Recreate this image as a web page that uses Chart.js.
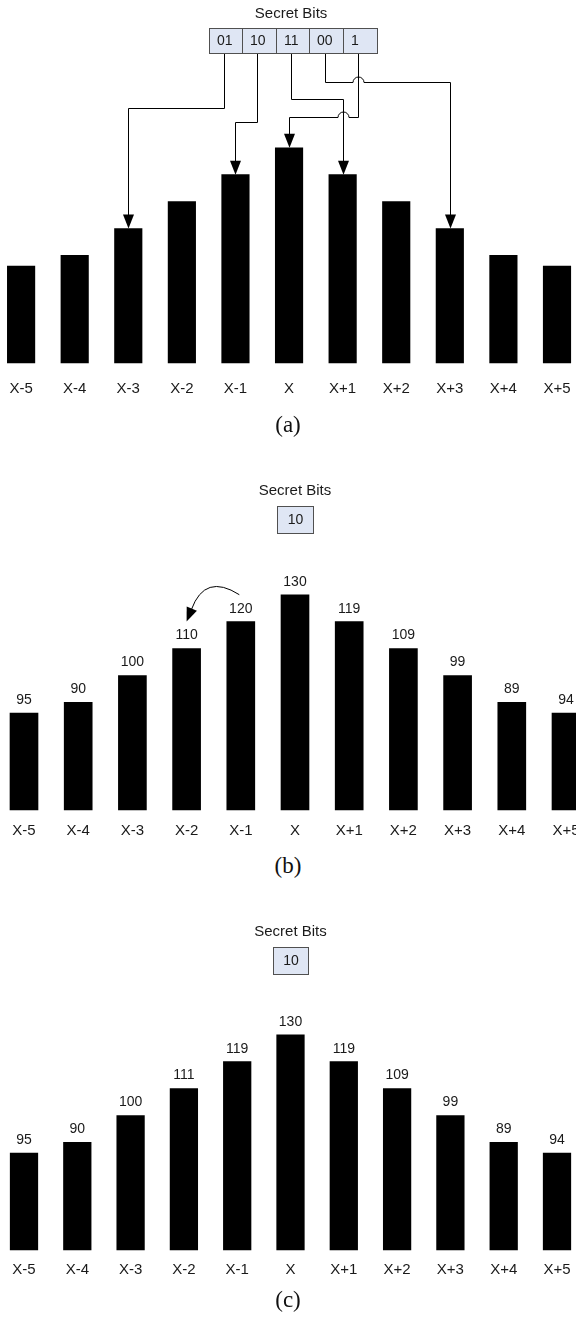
<!DOCTYPE html>
<html>
<head>
<meta charset="utf-8">
<script src="https://cdn.jsdelivr.net/npm/chart.js@4.4.1/dist/chart.umd.min.js"></script>
<style>
  html, body { margin: 0; padding: 0; background: #fff; overflow: hidden; }
  #page { position: relative; width: 576px; height: 1317px; overflow: hidden; }
  .panel { position: absolute; left: -30px; }
  .cap {
    position: absolute; left: 0; width: 576px; text-align: center;
    font-family: "Liberation Serif", "Times New Roman", serif;
    font-size: 23px; line-height: 24px; color: #111;
  }
</style>
</head>
<body>
<div id="page">
  <div class="panel" style="top:0px"><canvas id="chartA" width="640" height="415"></canvas></div>
  <div class="cap" style="top:413px">(a)</div>
  <div class="panel" style="top:470px"><canvas id="chartB" width="640" height="382"></canvas></div>
  <div class="cap" style="top:854px">(b)</div>
  <div class="panel" style="top:910px"><canvas id="chartC" width="640" height="380"></canvas></div>
  <div class="cap" style="top:1288px">(c)</div>
</div>
<script>
const categories = ['X-5', 'X-4', 'X-3', 'X-2', 'X-1', 'X', 'X+1', 'X+2', 'X+3', 'X+4', 'X+5'];
// schematic bar heights (same shape in all three panels)
const barLevels = [3.6, 4, 5, 6, 7, 8, 7, 6, 5, 4, 3.6];
const valuesB = [95, 90, 100, 110, 120, 130, 119, 109, 99, 89, 94];
const valuesC = [95, 90, 100, 111, 119, 130, 119, 109, 99, 89, 94];
const bitsA = ['01', '10', '11', '00', '1'];
const targetsA = ['X-3', 'X-1', 'X+1', 'X+3', 'X'];
const bitsB = ['10'];
const bitsC = ['10'];

const Y_MAX = 10;
const UNIT = 26.9;
const SHIFT = 30; // canvases start 30px left of the page
const TEXT = '#1a1a1a';
const SANS = '"Liberation Sans", Arial, sans-serif';

function arrowHead(ctx, x, y, dx, dy, len, half) {
  const bx = x - dx * len, by = y - dy * len;
  ctx.beginPath();
  ctx.moveTo(x, y);
  ctx.lineTo(bx - dy * half, by + dx * half);
  ctx.lineTo(bx + dy * half, by - dx * half);
  ctx.closePath();
  ctx.fill();
}

function bitsBox(ctx, left, top, cellW, h, bits, centered) {
  ctx.save();
  ctx.font = '14px ' + SANS;
  ctx.textBaseline = 'middle';
  bits.forEach((b, i) => {
    const x = Math.round(left + i * cellW);
    const x2 = Math.round(left + (i + 1) * cellW);
    ctx.fillStyle = '#dfe6f4';
    ctx.fillRect(x, top, x2 - x, h);
    ctx.strokeStyle = '#505050';
    ctx.lineWidth = 1;
    ctx.strokeRect(x + 0.5, top + 0.5, x2 - x, h);
    ctx.fillStyle = TEXT;
    if (centered) {
      ctx.textAlign = 'center';
      ctx.fillText(b, (x + x2) / 2 + 0.5, top + h / 2 + 1);
    } else {
      ctx.textAlign = 'left';
      ctx.fillText(b, x + 8, top + h / 2 + 1);
    }
  });
  ctx.restore();
}

function title(ctx, cx, y) {
  ctx.save();
  ctx.font = '15px ' + SANS;
  ctx.fillStyle = TEXT;
  ctx.textAlign = 'center';
  ctx.textBaseline = 'middle';
  ctx.fillText('Secret Bits', cx, y);
  ctx.restore();
}

const decor = {
  id: 'decor',
  afterDatasetsDraw(chart, args, opts) {
    const ctx = chart.ctx;
    const xs = chart.scales.x, ys = chart.scales.y;
    const px = i => xs.getPixelForValue(i);
    const top = i => ys.getPixelForValue(barLevels[i]);
    const xc = px(categories.indexOf('X'));
    ctx.save();
    ctx.fillStyle = '#000';
    ctx.strokeStyle = '#000';
    ctx.lineWidth = 1;

    if (opts.panel === 'a') {
      const cellW = 33.6, bh = 25, btop = 28;
      const bleft = xc + 3.5 - cellW * bitsA.length / 2;
      const bbot = btop + bh;
      const drops = [55, 69, 46, 29, 64];
      const routes = bitsA.map((b, i) => {
        const ti = categories.indexOf(targetsA[i]);
        return {
          sx: Math.round(bleft + (i + 0.5) * cellW - 1.5) + 0.5,
          hy: bbot + drops[i] + 0.5,
          tx: Math.round(px(ti)) + 0.5,
          ty: top(ti)
        };
      });
      const r = 5.5;
      routes.forEach((rt, i) => {
        // verticals of the other routes crossing this horizontal
        const lo = Math.min(rt.sx, rt.tx), hi = Math.max(rt.sx, rt.tx);
        const dir = rt.tx > rt.sx ? 1 : -1;
        const cross = [];
        routes.forEach((o, j) => {
          if (j === i) return;
          if (o.sx > lo && o.sx < hi && rt.hy > bbot && rt.hy < o.hy) cross.push(o.sx);
          if (o.tx > lo && o.tx < hi && rt.hy > o.hy && rt.hy < o.ty) cross.push(o.tx);
        });
        cross.sort((a, b) => (a - b) * dir);
        ctx.beginPath();
        ctx.moveTo(rt.sx, bbot);
        ctx.lineTo(rt.sx, rt.hy);
        cross.forEach(c => {
          ctx.lineTo(c - dir * r, rt.hy);
          if (dir > 0) ctx.arc(c, rt.hy, r, Math.PI, 2 * Math.PI, false);
          else ctx.arc(c, rt.hy, r, 0, -Math.PI, true);
        });
        ctx.lineTo(rt.tx, rt.hy);
        ctx.lineTo(rt.tx, rt.ty - 13);
        ctx.stroke();
        arrowHead(ctx, rt.tx, rt.ty, 0, 1, 14, 5.5);
      });
      bitsBox(ctx, bleft, btop, cellW, bh, bitsA, false);
      title(ctx, xc + 2, btop - 14);
    } else {
      const vals = opts.values;
      ctx.font = '14px ' + SANS;
      ctx.fillStyle = TEXT;
      ctx.textAlign = 'center';
      ctx.textBaseline = 'middle';
      vals.forEach((v, i) => ctx.fillText(String(v), px(i), top(i) - 13));
      bitsBox(ctx, xc - opts.boxW / 2, opts.boxTop, opts.boxW, 27, opts.bits, true);
      title(ctx, xc, opts.boxTop - 15);

      if (opts.curve) {
        const i1 = categories.indexOf('X-1'), i2 = categories.indexOf('X-2');
        const sx = px(i1) - 1.5, sy = top(i1) - 27;
        const tx = px(i2), ty = top(i2) - 27;
        const qx = (sx + tx) / 2 - 8, qy = sy - 22;
        const dx0 = tx + 4 - qx, dy0 = ty - 13 - qy;
        const n = Math.hypot(dx0, dy0);
        const ux = dx0 / n, uy = dy0 / n;
        const bx = tx - ux * 13, by = ty - uy * 13;
        ctx.beginPath();
        ctx.moveTo(sx, sy);
        ctx.quadraticCurveTo(qx, qy, bx, by);
        ctx.strokeStyle = '#000';
        ctx.stroke();
        ctx.fillStyle = '#000';
        arrowHead(ctx, tx, ty, ux, uy, 14, 5.5);
      }
    }
    ctx.restore();
  }
};

function makeChart(id, cfg) {
  const canvas = document.getElementById(id);
  // x axis takes label height (15 * 1.2) plus the tick padding on both sides
  const bottom = canvas.height - 18 - 2 * cfg.tickPad;
  return new Chart(canvas, {
    type: 'bar',
    data: {
      labels: categories,
      datasets: [{
        data: barLevels,
        backgroundColor: '#000',
        borderWidth: 0,
        barThickness: cfg.barW,
        clip: false
      }]
    },
    options: {
      responsive: false,
      animation: false,
      layout: {
        padding: {
          left: cfg.first + SHIFT,
          right: canvas.width - cfg.last - SHIFT,
          top: bottom - UNIT * Y_MAX,
          bottom: 0
        }
      },
      scales: {
        x: {
          offset: false,
          grid: { display: false, drawTicks: false },
          border: { display: false },
          ticks: {
            color: TEXT,
            font: { family: SANS, size: 15 },
            padding: cfg.tickPad,
            autoSkip: false,
            maxRotation: 0
          }
        },
        y: { display: false, min: 0, max: Y_MAX }
      },
      plugins: {
        legend: { display: false },
        tooltip: { enabled: false },
        decor: cfg.decor
      }
    },
    plugins: [decor]
  });
}

makeChart('chartA', { first: 21.1, last: 557, barW: 27.5, tickPad: 17, decor: { panel: 'a' } });
makeChart('chartB', {
  first: 24, last: 566, barW: 28, tickPad: 12,
  decor: { panel: 'b', values: valuesB, bits: bitsB, boxTop: 36, boxW: 36, curve: true }
});
makeChart('chartC', {
  first: 24, last: 557, barW: 27.6, tickPad: 11,
  decor: { panel: 'c', values: valuesC, bits: bitsC, boxTop: 37, boxW: 35, curve: false }
});
</script>
</body>
</html>
